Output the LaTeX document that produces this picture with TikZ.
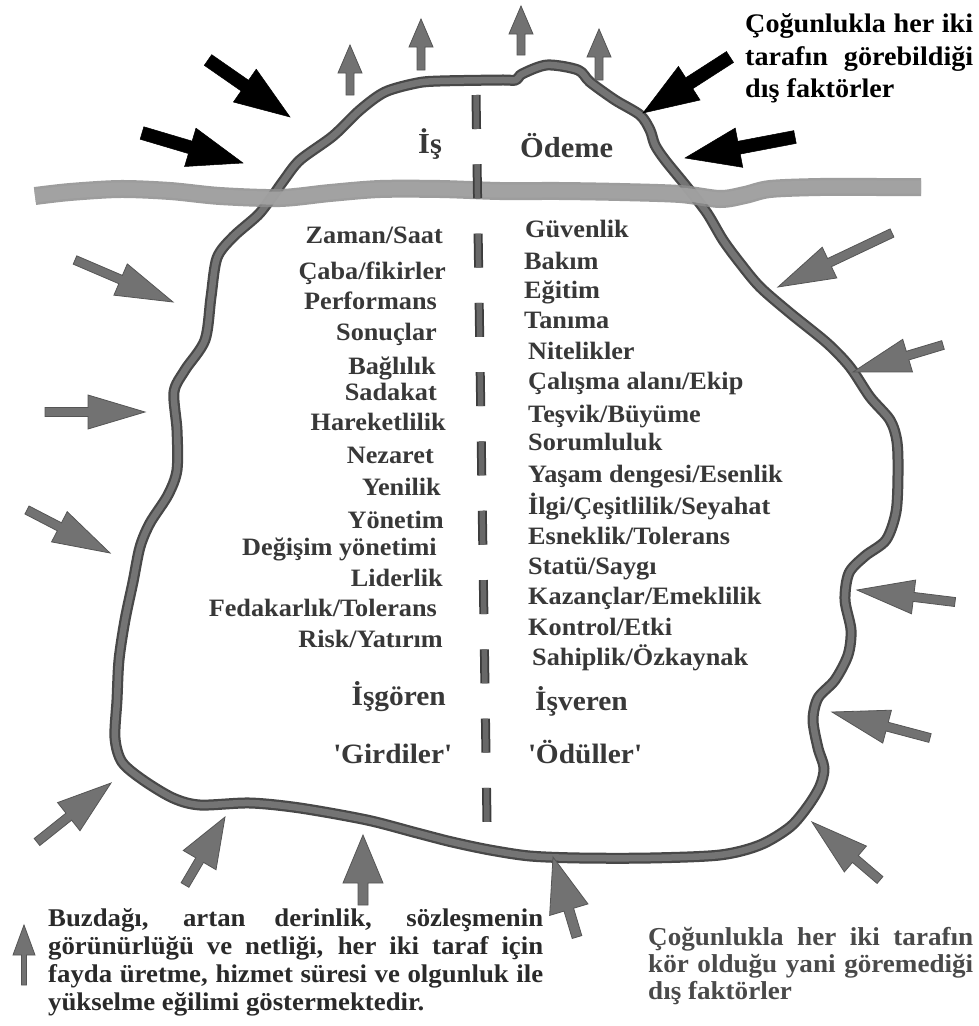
\documentclass[tikz,border=0pt]{standalone}
\usepackage{fontspec}
\setmainfont{Liberation Serif}[FakeStretch=1.05]
\usetikzlibrary{calc}

\definecolor{tubeedge}{HTML}{484848}
\definecolor{tubefill}{HTML}{747474}
\definecolor{bandfill}{HTML}{A4A4A4}
\definecolor{bandedge}{HTML}{8C8C8C}
\definecolor{arrowgray}{HTML}{727272}
\definecolor{arrowedge}{HTML}{555555}
\definecolor{dashedge}{HTML}{3C3C3C}
\definecolor{dashfill}{HTML}{686868}
\definecolor{txtgray}{HTML}{383838}
\definecolor{noteleft}{HTML}{2A2A2A}
\definecolor{noteright}{HTML}{4A4A4A}

% block arrow: [style]{tail}{tip}{half shaft width}{head length}{half head width}
\newcommand{\blockarrow}[6][]{%
  \coordinate (ba) at ($(#3)!#5!(#2)$);
  \filldraw[#1] ($(#2)!#4!90:(#3)$) -- ($(ba)!#4!90:(#3)$) -- ($(ba)!#6!90:(#3)$)
    -- (#3) -- ($(ba)!#6!-90:(#3)$) -- ($(ba)!#4!-90:(#3)$) -- ($(#2)!#4!-90:(#3)$) -- cycle;}

\tikzset{
  listtext/.style={font=\fontsize{25}{29}\selectfont\bfseries, text=txtgray, inner sep=0pt},
  lefttext/.style={listtext, anchor=base east},
  righttext/.style={listtext, anchor=base west},
  sidelabel/.style={font=\fontsize{28}{32}\selectfont\bfseries, text=txtgray, inner sep=0pt},
  toplabel/.style={font=\fontsize{29}{33}\selectfont\bfseries, text=txtgray, inner sep=0pt, anchor=base west},
  seennote/.style={font=\fontsize{26.8}{31}\selectfont\bfseries, text=black, inner sep=0pt, anchor=base west},
  depthnote/.style={font=\fontsize{25.5}{29}\selectfont\bfseries, text=noteleft, inner sep=0pt, anchor=base west},
  blindnote/.style={font=\fontsize{25.8}{29}\selectfont\bfseries, text=noteright, inner sep=0pt, anchor=base west},
  grayarrow/.style={fill=arrowgray, draw=arrowedge, line width=0.8pt, line join=miter},
  blackarrow/.style={fill=black, draw=black, line width=0.5pt, line join=miter},
}

\begin{document}
\begin{tikzpicture}[x=1pt,y=-1pt]
\useasboundingbox (0,0) rectangle (979,1026);
\fill[white] (0,0) rectangle (979,1026);

% iceberg outline
\def\iceberg{plot[smooth cycle, tension=0.5] coordinates {
  (440,81) (500,80) (516,80) (522,74) (547,65) (578,70) (590,82) (615,100)
  (640,115) (650,130) (655,145) (665,160) (687,187) (707,213) (723,240)
  (740,263) (760,287) (790,313) (827,343) (850,367) (870,397) (890,420)
  (897,442) (898,475) (896,512) (886,540) (865,556) (849,573) (845,600)
  (851,630) (848,655) (835,680) (818,698) (813,720) (818,748) (824,768)
  (820,786) (808,806) (790,827) (760,845) (720,855) (650,858) (580,858)
  (530,856) (490,850) (452,842) (417,833) (367,820) (300,808) (250,803)
  (200,805) (173,798) (143,780) (122,762) (115,738) (117,700) (119,660)
  (125,620) (133,582) (140,547) (150,523) (168,495) (177,470) (177,430)
  (174,392) (185,370) (205,340) (211,297) (217,258) (233,237) (258,215)
  (272,197) (284,180) (300,160) (333,136) (360,110) (385,92) (417,83)}}
\draw[tubeedge, line width=11pt, line join=round] \iceberg;
\draw[tubefill, line width=6.5pt, line join=round] \iceberg;

% water line
\def\waterline{plot[smooth, tension=0.5] coordinates {
  (35,196) (70,192) (120,189) (170,191) (220,196) (280,198) (330,193)
  (380,189) (440,189) (500,191) (560,191) (620,192) (680,194) (720,199)
  (745,195) (770,189) (820,187) (880,187) (921,187)}}
\draw[bandedge, line width=18pt, opacity=0.85] \waterline;
\draw[bandfill, line width=13pt, opacity=0.85] \waterline;

% dividing dashed line
\draw[dashedge, line width=9pt, dash pattern=on 34pt off 35.3pt] (476,95) -- (487,822);
\draw[dashfill, line width=5.5pt, dash pattern=on 34pt off 35.3pt] (476,95) -- (487,822);

% rising arrows above the top
\blockarrow[grayarrow]{350,95}{350,45}{4pt}{28pt}{12pt}
\blockarrow[grayarrow]{421,70}{421,19}{4pt}{28pt}{12pt}
\blockarrow[grayarrow]{521,55}{521,6}{4pt}{28pt}{12pt}
\blockarrow[grayarrow]{599,80}{599,29}{4pt}{28pt}{12pt}

% visible external factors
\blockarrow[blackarrow]{208,60}{290,117}{6.5pt}{55pt}{20pt}
\blockarrow[blackarrow]{142,133}{243,163}{6.5pt}{55pt}{20pt}
\blockarrow[blackarrow]{730,57}{643,113}{6.5pt}{55pt}{20pt}
\blockarrow[blackarrow]{795,137}{685,158}{6.5pt}{55pt}{20pt}

% hidden external factors
\blockarrow[grayarrow]{75,260}{173,302}{4.5pt}{57pt}{17pt}
\blockarrow[grayarrow]{45,412}{145,412}{4.5pt}{57pt}{17pt}
\blockarrow[grayarrow]{27,510}{110,553}{4.5pt}{57pt}{17pt}
\blockarrow[grayarrow]{892,233}{778,287}{4.5pt}{57pt}{17pt}
\blockarrow[grayarrow]{943,345}{853,372}{4.5pt}{57pt}{17pt}
\blockarrow[grayarrow]{955,602}{857,590}{4.5pt}{57pt}{17pt}
\blockarrow[grayarrow]{930,738}{832,712}{4.5pt}{57pt}{17pt}
\blockarrow[grayarrow]{880,880}{812,822}{4.5pt}{57pt}{17pt}
\blockarrow[grayarrow]{37,842}{111,783}{4.5pt}{54pt}{18pt}
\blockarrow[grayarrow]{185,885}{225,817}{4.5pt}{50pt}{19pt}
\blockarrow[grayarrow]{363,905}{363,835}{5pt}{48pt}{20pt}
\blockarrow[grayarrow]{577,937}{553,857}{5pt}{55pt}{20pt}

% legend arrow
\blockarrow[grayarrow]{24,985}{24,925}{2.5pt}{30pt}{11pt}

% headings above the water
\node[toplabel] (is) at (418,153) {İş};
\node[toplabel] (odeme) at (520,157) {Ödeme};

% employee inputs
\node[lefttext] (l1) at (443,243) {Zaman/Saat};
\node[lefttext] (l2) at (446,279) {Çaba/fikirler};
\node[lefttext] (l3) at (437,309) {Performans};
\node[lefttext] (l4) at (437,340) {Sonuçlar};
\node[lefttext] (l5) at (436,374) {Bağlılık};
\node[lefttext] (l6) at (437,400) {Sadakat};
\node[lefttext] (l7) at (446,430) {Hareketlilik};
\node[lefttext] (l8) at (434,463) {Nezaret};
\node[lefttext] (l9) at (441,495) {Yenilik};
\node[lefttext] (l10) at (444,528) {Yönetim};
\node[lefttext] (l11) at (437,555) {Değişim yönetimi};
\node[lefttext] (l12) at (443,586) {Liderlik};
\node[lefttext] (l13) at (437,616) {Fedakarlık/Tolerans};
\node[lefttext] (l14) at (443,647) {Risk/Yatırım};

% employer rewards
\node[righttext] (r1) at (525,237) {Güvenlik};
\node[righttext] (r2) at (524,269) {Bakım};
\node[righttext] (r3) at (524,298) {Eğitim};
\node[righttext] (r4) at (524,328) {Tanıma};
\node[righttext] (r5) at (528,359) {Nitelikler};
\node[righttext] (r6) at (528,389) {Çalışma alanı/Ekip};
\node[righttext] (r7) at (528,422) {Teşvik/Büyüme};
\node[righttext] (r8) at (528,450) {Sorumluluk};
\node[righttext] (r9) at (528,482) {Yaşam dengesi/Esenlik};
\node[righttext] (r10) at (528,514) {İlgi/Çeşitlilik/Seyahat};
\node[righttext] (r11) at (528,544) {Esneklik/Tolerans};
\node[righttext] (r12) at (528,574) {Statü/Saygı};
\node[righttext] (r13) at (528,604) {Kazançlar/Emeklilik};
\node[righttext] (r14) at (528,635) {Kontrol/Etki};
\node[righttext] (r15) at (532,665) {Sahiplik/Özkaynak};

% side captions
\node[sidelabel, anchor=base east] (isgoren) at (446,705) {İşgören};
\node[sidelabel, anchor=base west] (isveren) at (535,710) {İşveren};
\node[sidelabel, anchor=base east] (girdiler) at (452,763) {\textquotesingle Girdiler\textquotesingle};
\node[sidelabel, anchor=base west] (oduller) at (528,763) {\textquotesingle Ödüller\textquotesingle};

% note on visible factors
\node[seennote] (tr1) at (745,32) {\makebox[228pt][s]{Çoğunlukla her iki}};
\node[seennote] (tr2) at (745,65) {\makebox[228pt][s]{tarafın görebildiği}};
\node[seennote] (tr3) at (745,97) {dış faktörler};

% note on depth
\node[depthnote] (bl1) at (48,926) {\makebox[495pt][s]{Buzdağı, artan derinlik, sözleşmenin}};
\node[depthnote] (bl2) at (48,954) {\makebox[495pt][s]{görünürlüğü ve netliği, her iki taraf için}};
\node[depthnote] (bl3) at (48,982) {\makebox[495pt][s]{fayda üretme, hizmet süresi ve olgunluk ile}};
\node[depthnote] (bl4) at (48,1010) {yükselme eğilimi göstermektedir.};

% note on hidden factors
\node[blindnote] (br1) at (648,945) {\makebox[325pt][s]{Çoğunlukla her iki tarafın}};
\node[blindnote] (br2) at (648,972) {\makebox[325pt][s]{kör olduğu yani göremediği}};
\node[blindnote] (br3) at (648,999) {dış faktörler};
\end{tikzpicture}
\end{document}
